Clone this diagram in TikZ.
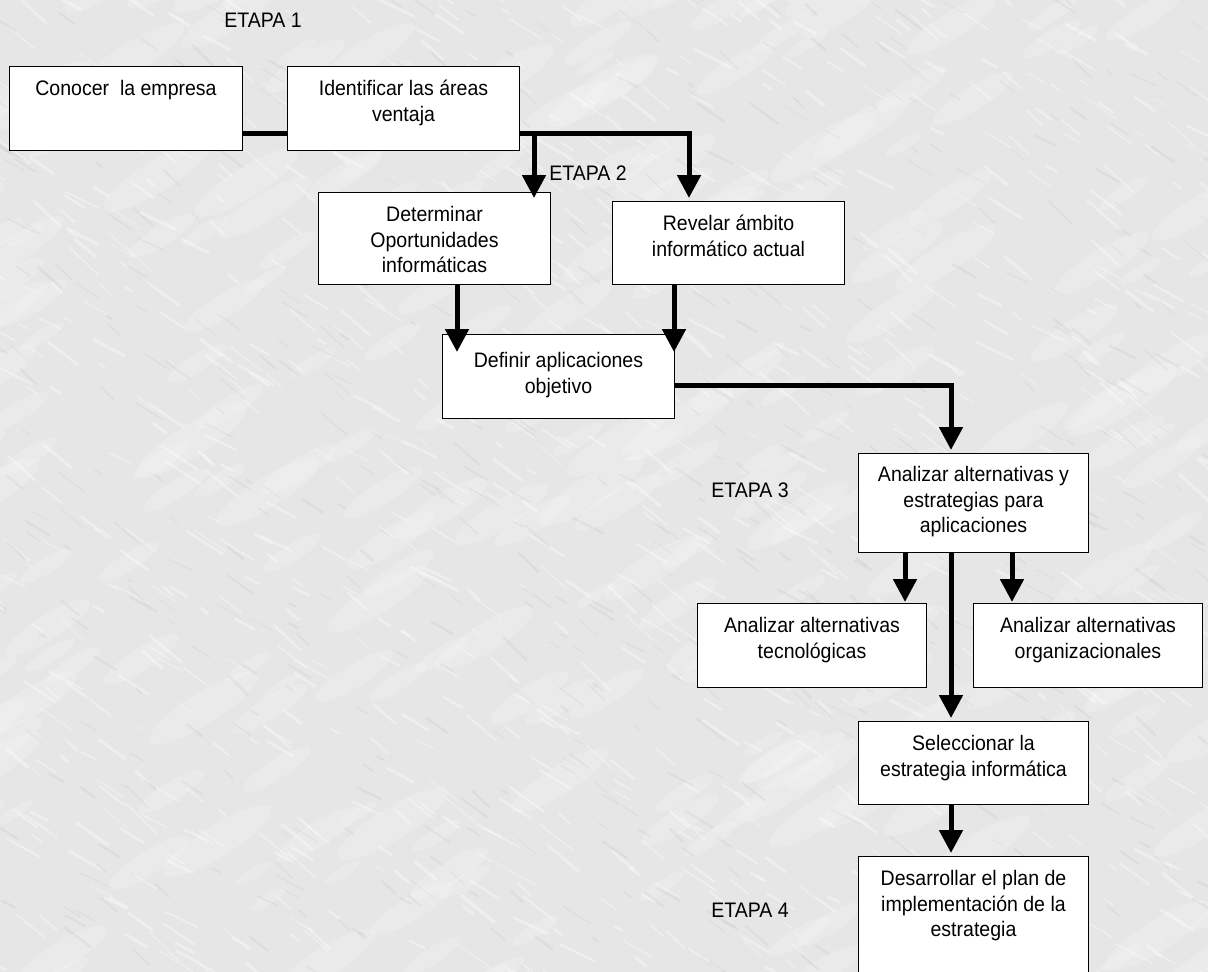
\documentclass[tikz,border=0pt]{standalone}
\usepackage{fontspec}
\setmainfont[FakeStretch=0.93]{Liberation Sans}
\usetikzlibrary{arrows.meta,calc}

\definecolor{paper}{RGB}{230,230,230}
\definecolor{streak}{RGB}{160,160,160}

\newcommand{\diagfont}{\fontsize{21}{25.5}\selectfont}
% top-aligned, centred text block of a given width and height
\newcommand{\boxtext}[4][29pt]{%
  \begin{minipage}[t][#3][t]{#2}\centering\rule{0pt}{#1}#4\end{minipage}}

\begin{document}
\begin{tikzpicture}[x=1pt,y=-1pt,
  stepbox/.style={draw=black,line width=1pt,fill=white,inner sep=0pt,
                  anchor=north west,font=\diagfont},
  stage/.style={inner sep=0pt,font=\diagfont},
  link/.style={line width=5pt,line join=miter},
  arr/.style={line width=5pt,line join=miter,
              -{Triangle[width=23pt,length=23pt]}}]

% marbled paper background
\fill[paper] (0,0) rectangle (1208,972);
\useasboundingbox (0,0) rectangle (1208,972);
\begin{scope}
  \clip (0,0) rectangle (1208,972);
  \pgfmathsetseed{11}
  \foreach \i in {1,...,260}{
    \pgfmathsetmacro{\sx}{rnd*1260-30}
    \pgfmathsetmacro{\sy}{rnd*1020-30}
    \pgfmathsetmacro{\sr}{20+rnd*45}
    \fill[white,opacity=0.18,rotate around={32:(\sx,\sy)}]
      (\sx,\sy) ellipse [x radius=\sr pt,y radius=0.25*\sr pt];
  }
  \foreach \i in {1,...,900}{
    \pgfmathsetmacro{\sx}{rnd*1260-30}
    \pgfmathsetmacro{\sy}{rnd*1020-30}
    \pgfmathsetmacro{\sl}{8+rnd*35}
    \pgfmathsetmacro{\sw}{0.8+rnd*2.5}
    \pgfmathsetmacro{\sa}{25+rnd*20}
    \draw[white,opacity=0.35,line width=\sw pt,line cap=round]
      (\sx,\sy) -- ++(\sa:\sl);
  }
  \foreach \i in {1,...,600}{
    \pgfmathsetmacro{\sx}{rnd*1260-30}
    \pgfmathsetmacro{\sy}{rnd*1020-30}
    \pgfmathsetmacro{\sl}{6+rnd*28}
    \pgfmathsetmacro{\sw}{0.6+rnd*2}
    \pgfmathsetmacro{\sa}{25+rnd*20}
    \draw[streak,opacity=0.12,line width=\sw pt,line cap=round]
      (\sx,\sy) -- ++(\sa:\sl);
  }
\end{scope}

% stage labels
\node[stage] (e1) at (263,20)  {ETAPA 1};
\node[stage] (e2) at (588,173) {ETAPA 2};
\node[stage] (e3) at (750,490) {ETAPA 3};
\node[stage] (e4) at (750,910) {ETAPA 4};

% boxes
\node[stepbox] (b1) at (9,66)
  {\boxtext{233pt}{84pt}{Conocer\ \ la empresa}};
\node[stepbox] (b2) at (287,66)
  {\boxtext{232pt}{84pt}{Identificar las áreas\\ ventaja}};
\node[stepbox] (b3) at (318,192)
  {\boxtext{232pt}{92pt}{Determinar\\ Oportunidades\\ informáticas}};
\node[stepbox] (b4) at (612,201)
  {\boxtext{232pt}{83pt}{Revelar ámbito\\ informático actual}};
\node[stepbox] (b5) at (442,334)
  {\boxtext[33pt]{232pt}{84pt}{Definir aplicaciones\\ objetivo}};
\node[stepbox] (b6) at (858,453)
  {\boxtext[28pt]{230pt}{99pt}{Analizar alternativas y\\ estrategias para\\ aplicaciones}};
\node[stepbox] (b7) at (697,603)
  {\boxtext{229pt}{84pt}{Analizar alternativas\\ tecnológicas}};
\node[stepbox] (b8) at (973,603)
  {\boxtext{229pt}{84pt}{Analizar alternativas\\ organizacionales}};
\node[stepbox] (b9) at (858,721)
  {\boxtext{230pt}{83pt}{Seleccionar la\\ estrategia informática}};
\node[stepbox] (b10) at (858,856)
  {\boxtext{230pt}{135pt}{Desarrollar el plan de\\ implementación de la\\ estrategia}};

% routing points
\coordinate (j1) at (265,133);
\coordinate (r1) at (689,133);
\coordinate (r2) at (534,133);
\coordinate (d1) at (457,352);
\coordinate (d2) at (674,352);
\coordinate (t1) at (951,385);
\coordinate (s1) at (905,600);
\coordinate (s2) at (1012,600);

% connectors
\draw[link] (b1.east |- j1) -- (b2.west |- j1);
\draw[arr] (b2.east |- r1) -- (r1) -- ($(r1 |- b4.north)+(0,-3)$);
\draw[arr] (r2) -- ($(r2 |- b3.north)+(0,6)$);
\draw[arr] (d1 |- b3.south) -- (d1);
\draw[arr] (d2 |- b4.south) -- (d2);
\draw[arr] (b5.east |- t1) -- (t1) -- ($(t1 |- b6.north)+(0,-3)$);
\draw[arr] (s1 |- b6.south) -- ($(s1 |- b7.north)+(0,-1)$);
\draw[arr] (s2 |- b6.south) -- ($(s2 |- b8.north)+(0,-1)$);
\draw[arr] (t1 |- b6.south) -- ($(t1 |- b9.north)+(0,-3)$);
\draw[arr] (t1 |- b9.south) -- ($(t1 |- b10.north)+(0,-3)$);
\end{tikzpicture}
\end{document}
